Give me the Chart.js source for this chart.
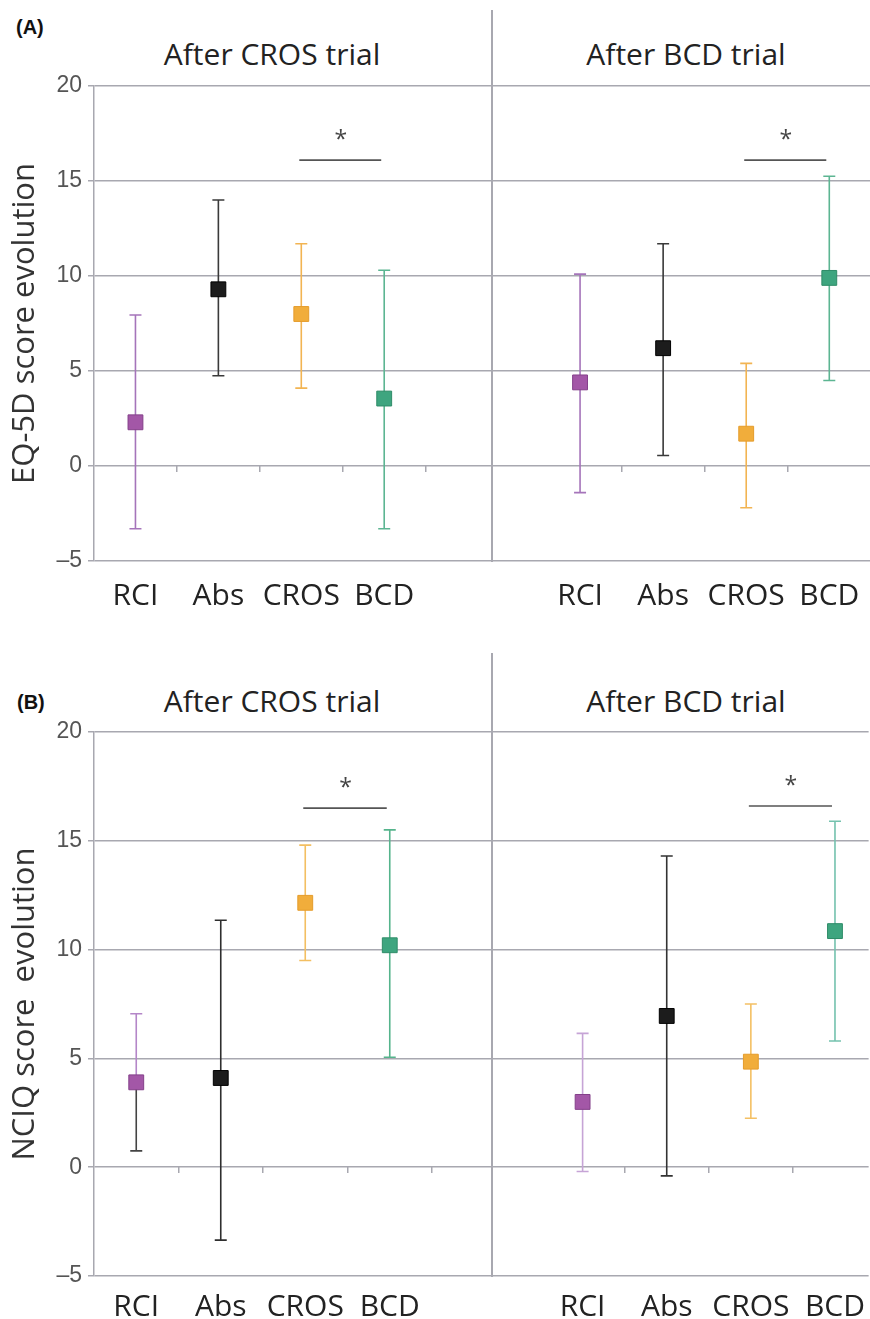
<!DOCTYPE html>
<html>
<head>
<title>EQ-5D and NCIQ score evolution</title>
<script src="https://cdn.jsdelivr.net/npm/chart.js"></script>
<style>
    body {
        margin: 0;
        background: #fff;
        font-family: 'Open Sans', sans-serif;
    }
    #page {
        position: relative;
        width: 870px;
        height: 1319px;
        overflow: hidden;
    }
    canvas {
        position: absolute;
    }
    .panel-label {
        position: absolute;
        font: bold 20px 'Liberation Sans', Arial, sans-serif;
        color: #111;
    }
    .title {
        position: absolute;
        font-size: 30px;
        line-height: 30px;
        color: #222;
        transform: translate(-50%, -50%);
        white-space: nowrap;
    }
    .divider {
        position: absolute;
        left: 491px;
        width: 2px;
        background: #a8a8b0;
    }
</style>
</head>
<body>
<div id="page">
    <div class="panel-label" style="left:16px; top:16px;">(A)</div>
    <div class="panel-label" style="left:17px; top:691px;">(B)</div>
    <div class="title" style="left:272px; top:54px;">After CROS trial</div>
    <div class="title" style="left:686px; top:54px;">After BCD trial</div>
    <div class="title" style="left:272px; top:701px;">After CROS trial</div>
    <div class="title" style="left:686px; top:701px;">After BCD trial</div>

    <canvas id="eqCros" width="492" height="620" style="left:0; top:0;"></canvas>
    <canvas id="eqBcd" width="378" height="620" style="left:492px; top:0;"></canvas>
    <canvas id="nciqCros" width="492" height="679" style="left:0; top:640px;"></canvas>
    <canvas id="nciqBcd" width="378" height="679" style="left:492px; top:640px;"></canvas>

    <div class="divider" style="top:10px; height:552px;"></div>
    <div class="divider" style="top:653px; height:624px;"></div>
</div>

<script>
const groups = ['RCI', 'Abs', 'CROS', 'BCD'];
const yTicks = [-5, 0, 5, 10, 15, 20];

// (A) EQ-5D
const eqCrosMean = [2.3, 9.3, 8.0, 3.55];
const eqCrosLow = [-3.3, 4.75, 4.1, -3.3];
const eqCrosHigh = [7.95, 14.0, 11.7, 10.3];
const eqBcdMean = [4.4, 6.2, 1.7, 9.9];
const eqBcdLow = [-1.4, 0.55, -2.2, 4.5];
const eqBcdHigh = [10.1, 11.7, 5.4, 15.25];

// (B) NCIQ
const nciqCrosMean = [3.9, 4.1, 12.15, 10.2];
const nciqCrosLow = [0.75, -3.35, 9.5, 5.05];
const nciqCrosHigh = [7.05, 11.35, 14.8, 15.5];
const nciqBcdMean = [3.0, 6.95, 4.85, 10.85];
const nciqBcdLow = [-0.2, -0.4, 2.25, 5.8];
const nciqBcdHigh = [6.15, 14.3, 7.5, 15.9];

// significance bar (CROS vs BCD) heights
const eqSigY = [16.1, 16.1];
const nciqSigY = [16.5, 16.6];

const markerFill = ['#a357a7', '#1c1c1c', '#f1ad3b', '#3ea57f'];
const markerEdge = ['#84408a', '#000000', '#e59c2c', '#2f8c68'];
const whiskerColor = ['#a574ba', '#3a3a3a', '#f2b452', '#5cb592'];

const gridColor = '#a8a8b0';

// whiskers + caps, drawn under the squares
const errorBars = {
    id: 'errorBars',
    beforeDatasetsDraw(chart) {
        const {ctx, scales: {x, y}} = chart;
        chart.data.datasets.forEach(ds => {
            ds.data.forEach((pt, i) => {
                const px = x.getPixelForValue(pt.x);
                const pm = y.getPixelForValue(pt.y);
                const ph = y.getPixelForValue(ds.errHigh[i]);
                const pl = y.getPixelForValue(ds.errLow[i]);
                ctx.save();
                ctx.lineWidth = 1.6;
                ctx.strokeStyle = ds.whisker[i];
                ctx.beginPath();
                ctx.moveTo(px, pm);
                ctx.lineTo(px, ph);
                ctx.moveTo(px - 6, ph);
                ctx.lineTo(px + 6, ph);
                ctx.stroke();
                ctx.strokeStyle = (ds.whiskerLow || ds.whisker)[i];
                ctx.beginPath();
                ctx.moveTo(px, pm);
                ctx.lineTo(px, pl);
                ctx.moveTo(px - 6, pl);
                ctx.lineTo(px + 6, pl);
                ctx.stroke();
                ctx.restore();
            });
        });
    }
};

const sigMark = {
    id: 'sigMark',
    afterDatasetsDraw(chart, args, opts) {
        if (opts.y == null) return;
        const {ctx, scales: {x, y}} = chart;
        const x1 = x.getPixelForValue(3);
        const x2 = x.getPixelForValue(4);
        const py = y.getPixelForValue(opts.y);
        ctx.save();
        ctx.strokeStyle = '#555';
        ctx.lineWidth = 1.6;
        ctx.beginPath();
        ctx.moveTo(x1 - 2, py);
        ctx.lineTo(x2 - 3, py);
        ctx.stroke();
        ctx.fillStyle = '#444';
        ctx.font = "23px 'Open Sans'";
        ctx.textAlign = 'center';
        ctx.textBaseline = 'alphabetic';
        ctx.fillText('*', (x1 + x2) / 2 - 2, py - 13);
        ctx.restore();
    }
};

function makeChart(id, o) {
    const left = o.side === 'left';
    const ctx = document.getElementById(id).getContext('2d');
    return new Chart(ctx, {
        type: 'scatter',
        data: {
            datasets: [{
                data: groups.map((g, i) => ({x: i + 1, y: o.mean[i]})),
                errLow: o.low,
                errHigh: o.high,
                whisker: o.whisker || whiskerColor,
                whiskerLow: o.whiskerLow,
                pointStyle: 'rect',
                pointRadius: 10.5,
                pointHoverRadius: 10.5,
                pointBackgroundColor: markerFill,
                pointBorderColor: markerEdge,
                pointBorderWidth: 1,
                clip: false
            }]
        },
        options: {
            responsive: false,
            animation: false,
            events: [],
            layout: {autoPadding: false, padding: {top: o.padTop, left: 0, right: 0, bottom: 0}},
            plugins: {
                legend: {display: false},
                tooltip: {enabled: false},
                sigMark: {y: o.sigY}
            },
            scales: {
                x: {
                    type: 'linear',
                    position: {y: 0},
                    min: o.xMin,
                    max: o.xMax,
                    afterBuildTicks: s => { s.ticks = [1.5, 2.5, 3.5, 4.5].map(v => ({value: v})); },
                    grid: {drawOnChartArea: false, drawTicks: true, tickLength: 6, color: gridColor, lineWidth: 1.5},
                    border: {display: false},
                    ticks: {display: false}
                },
                xl: {
                    type: 'linear',
                    position: 'bottom',
                    min: o.xMin,
                    max: o.xMax,
                    afterBuildTicks: s => { s.ticks = groups.map((g, i) => ({value: i + 1})); },
                    afterFit: s => { s.height = o.labelHeight; },
                    grid: {display: false},
                    border: {display: false},
                    ticks: {
                        autoSkip: false,
                        maxRotation: 0,
                        padding: o.labelPad,
                        color: '#222',
                        font: {family: 'Open Sans', size: 30},
                        callback: v => groups[v - 1]
                    }
                },
                y: {
                    min: -5,
                    max: 20,
                    afterBuildTicks: s => { s.ticks = yTicks.map(v => ({value: v})); },
                    afterFit: s => { s.width = left ? 94 : 0; },
                    grid: {color: gridColor, lineWidth: 1.5, drawTicks: left, tickLength: 6},
                    border: {display: left, color: gridColor, width: 1.5},
                    ticks: {
                        display: left,
                        padding: 6,
                        color: '#555',
                        font: {family: 'Liberation Sans', size: 23},
                        callback: v => String(v).replace('-', '\u2013')
                    },
                    title: {
                        display: left,
                        text: o.yTitle,
                        color: '#333',
                        font: {family: 'Open Sans', size: 31},
                        padding: {top: 7, bottom: 0}
                    }
                }
            }
        },
        plugins: [errorBars, sigMark]
    });
}

makeChart('eqCros', {
    side: 'left', mean: eqCrosMean, low: eqCrosLow, high: eqCrosHigh,
    xMin: 0.5, xMax: 5.3, padTop: 86, labelHeight: 59, labelPad: 9,
    yTitle: 'EQ-5D score evolution', sigY: eqSigY[0]
});
makeChart('eqBcd', {
    side: 'right', mean: eqBcdMean, low: eqBcdLow, high: eqBcdHigh,
    xMin: -0.06, xMax: 4.49, padTop: 86, labelHeight: 59, labelPad: 9,
    sigY: eqSigY[1]
});
makeChart('nciqCros', {
    side: 'left', mean: nciqCrosMean, low: nciqCrosLow, high: nciqCrosHigh,
    xMin: 0.5, xMax: 5.21, padTop: 92, labelHeight: 43, labelPad: 5,
    yTitle: 'NCIQ score  evolution', sigY: nciqSigY[0],
    whisker: ['#b486c8', '#2e2e2e', '#f3bf62', '#55b48c'],
    whiskerLow: ['#444444', '#2e2e2e', '#f3bf62', '#55b48c']
});
makeChart('nciqBcd', {
    side: 'right', mean: nciqBcdMean, low: nciqBcdLow, high: nciqBcdHigh,
    xMin: -0.077, xMax: 4.40, padTop: 92, labelHeight: 43, labelPad: 5,
    sigY: nciqSigY[1],
    whisker: ['#c6a4d6', '#333333', '#f4c064', '#74c2ae']
});
</script>
</body>
</html>
